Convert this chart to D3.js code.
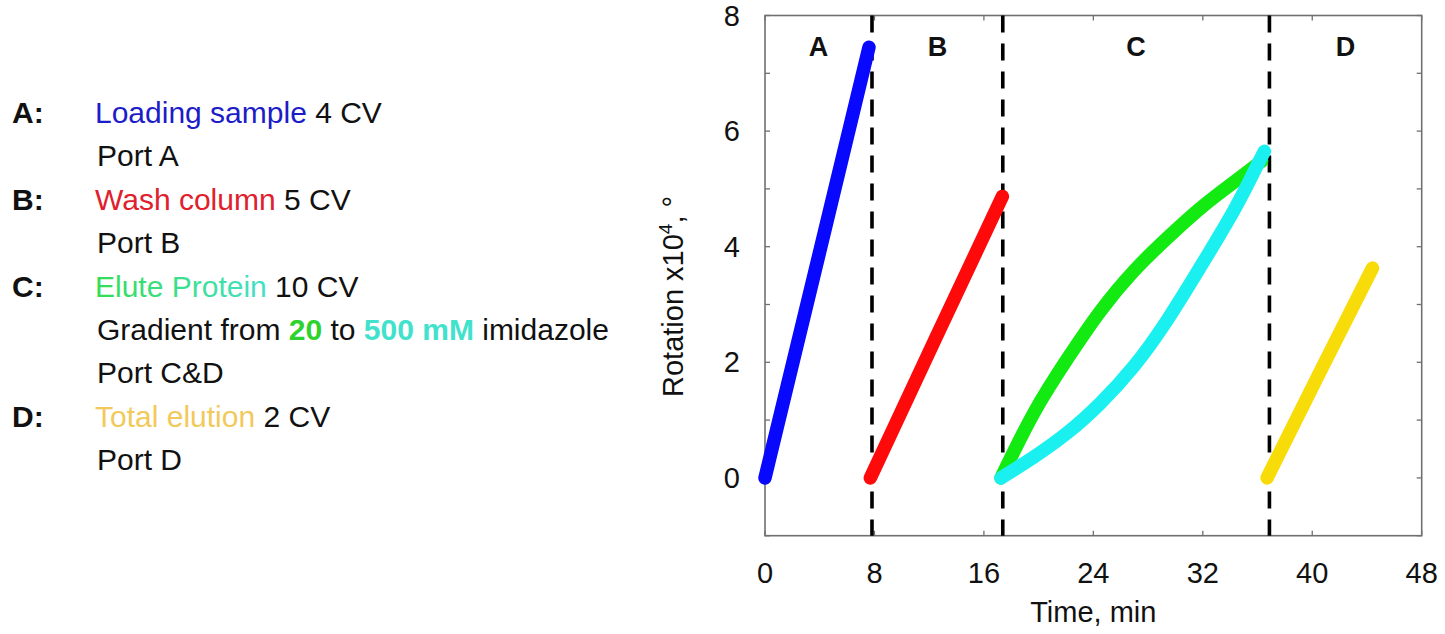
<!DOCTYPE html>
<html>
<head>
<meta charset="utf-8">
<script src="https://cdn.jsdelivr.net/npm/d3@7"></script>
<style>
  body { margin: 0; background: #fff; }
  svg { display: block; font-family: "Liberation Sans", Arial, sans-serif; }
</style>
</head>
<body>
<div id="chart"></div>
<script>
// phase data (time in min, rotation in x10^4 deg)
var loadTime = [0, 3.8, 7.6];
var loadRot = [0, 3.72, 7.45];
var washTime = [7.7, 12.5, 17.35];
var washRot = [0, 2.43, 4.87];
var eluteLowTime = [17.25, 19.64, 22.1, 24.5, 26.96, 29.4, 31.85, 34.3, 36.3];
var eluteLowRot = [0, 1.12, 2.06, 2.88, 3.58, 4.15, 4.67, 5.12, 5.48];
var eluteHighTime = [17.25, 19.64, 22.1, 24.5, 26.96, 29.4, 31.85, 34.3, 35.75, 36.5];
var eluteHighRot = [0, 0.36, 0.78, 1.29, 1.93, 2.73, 3.66, 4.64, 5.3, 5.65];
var totalTime = [36.7, 40.6, 44.4];
var totalRot = [0, 1.85, 3.63];

var phaseBounds = [7.82, 17.38, 36.87];
var phaseNames = ["A", "B", "C", "D"];
var xTicks = [0, 8, 16, 24, 32, 40, 48];
var yTicks = [0, 2, 4, 6, 8];
var yMinor = [-1, 0, 1, 2, 3, 4, 5, 6, 7, 8];

// legend text on the left
var legendKeys = ["A:", "B:", "C:", "D:"];
var legendSteps = ["Loading sample", "Wash column", "Elute Protein", "Total elution"];
var legendVolumes = [" 4 CV", " 5 CV", " 10 CV", " 2 CV"];
var legendPorts = ["Port A", "Port B", "Port C&D", "Port D"];

var width = 1445, height = 634;
var margin = {top: 15.5, right: 23.3, bottom: 98.3, left: 765};

var svg = d3.select("#chart").append("svg")
    .attr("width", width)
    .attr("height", height);

var x = d3.scaleLinear().domain([0, 48]).range([margin.left, width - margin.right]);
var y = d3.scaleLinear().domain([-1, 8]).range([height - margin.bottom, margin.top]);

var series = [
    {t: loadTime, r: loadRot, color: "#0808ff"},
    {t: washTime, r: washRot, color: "#ff0a0a"},
    {t: eluteLowTime, r: eluteLowRot, color: "#12ea12"},
    {t: eluteHighTime, r: eluteHighRot, color: "#1af0f0"},
    {t: totalTime, r: totalRot, color: "#f8dc0a"}
];

var defs = svg.append("defs");
var grad = defs.append("linearGradient")
    .attr("id", "eluteGrad")
    .attr("gradientUnits", "userSpaceOnUse")
    .attr("x1", 95).attr("x2", 267).attr("y1", 0).attr("y2", 0);
grad.append("stop").attr("offset", "0%").attr("stop-color", "#33dd55");
grad.append("stop").attr("offset", "100%").attr("stop-color", "#44e0c8");

// frame
svg.append("rect")
    .attr("x", x(0)).attr("y", y(8))
    .attr("width", x(48) - x(0)).attr("height", y(-1) - y(8))
    .attr("fill", "none").attr("stroke", "#707070").attr("stroke-width", 1.6);

// inward ticks on all four sides
var tickLen = 5;
svg.append("g").selectAll("line").data(xTicks).enter().append("line")
    .attr("x1", d => x(d)).attr("x2", d => x(d))
    .attr("y1", y(-1)).attr("y2", y(-1) - tickLen)
    .attr("stroke", "#707070").attr("stroke-width", 1.3);
svg.append("g").selectAll("line").data(xTicks).enter().append("line")
    .attr("x1", d => x(d)).attr("x2", d => x(d))
    .attr("y1", y(8)).attr("y2", y(8) + tickLen)
    .attr("stroke", "#707070").attr("stroke-width", 1.3);
svg.append("g").selectAll("line").data(yMinor).enter().append("line")
    .attr("x1", x(0)).attr("x2", x(0) + tickLen)
    .attr("y1", d => y(d)).attr("y2", d => y(d))
    .attr("stroke", "#707070").attr("stroke-width", 1.3);
svg.append("g").selectAll("line").data(yMinor).enter().append("line")
    .attr("x1", x(48)).attr("x2", x(48) - tickLen)
    .attr("y1", d => y(d)).attr("y2", d => y(d))
    .attr("stroke", "#707070").attr("stroke-width", 1.3);

// tick labels
svg.append("g").selectAll("text").data(xTicks).enter().append("text")
    .attr("x", d => x(d)).attr("y", 583)
    .attr("text-anchor", "middle")
    .style("font-size", "29px").attr("fill", "#111")
    .text(d => d);
svg.append("g").selectAll("text").data(yTicks).enter().append("text")
    .attr("x", 740).attr("y", d => y(d))
    .attr("dy", "0.35em")
    .attr("text-anchor", "end")
    .style("font-size", "29px").attr("fill", "#111")
    .text(d => d);

// axis titles
svg.append("text")
    .attr("x", (x(0) + x(48)) / 2).attr("y", 622)
    .attr("text-anchor", "middle")
    .style("font-size", "29px").attr("fill", "#111")
    .text("Time, min");

var yTitle = svg.append("text")
    .attr("transform", "translate(683,397) rotate(-90)")
    .attr("text-anchor", "start")
    .style("font-size", "29px").attr("fill", "#111");
yTitle.append("tspan").text("Rotation x10");
yTitle.append("tspan").attr("dy", -11).style("font-size", "19px").text("4");
yTitle.append("tspan").attr("dy", 11).text(", \u00b0");

// phase boundaries
svg.append("g").selectAll("line").data(phaseBounds).enter().append("line")
    .attr("x1", d => x(d)).attr("x2", d => x(d))
    .attr("y1", y(8)).attr("y2", y(-1))
    .attr("stroke", "#000").attr("stroke-width", 3.6)
    .attr("stroke-dasharray", "17,11");

// phase names centred between boundaries
var edges = [0].concat(phaseBounds, [48]);
svg.append("g").selectAll("text").data(phaseNames).enter().append("text")
    .attr("x", (d, i) => x((edges[i] + edges[i + 1]) / 2))
    .attr("y", 56)
    .attr("text-anchor", "middle")
    .style("font-size", "27px").style("font-weight", "bold").attr("fill", "#111")
    .text(d => d);

// curves
var line = d3.line()
    .x(d => x(d[0]))
    .y(d => y(d[1]))
    .curve(d3.curveNatural);

svg.append("g").selectAll("path").data(series).enter().append("path")
    .attr("d", d => line(d3.zip(d.t, d.r)))
    .attr("fill", "none")
    .attr("stroke", d => d.color)
    .attr("stroke-width", 13.5)
    .attr("stroke-linecap", "round")
    .attr("stroke-linejoin", "round");

// legend block
var stepColors = ["#1c1cc8", "#e0202c", "url(#eluteGrad)", "#f2c95a"];
var rowGap = 43.4, firstBase = 123;
var rowIndex = [0, 2, 4, 7];
var portIndex = [1, 3, 6, 8];
var legend = svg.append("g").style("font-size", "30px").attr("fill", "#111");

legendKeys.forEach(function (k, i) {
    var base = firstBase + rowIndex[i] * rowGap;
    legend.append("text")
        .attr("x", 12).attr("y", base)
        .style("font-weight", "bold")
        .text(k);
    var t = legend.append("text").attr("x", 95).attr("y", base);
    t.append("tspan").attr("fill", stepColors[i]).text(legendSteps[i]);
    t.append("tspan").text(legendVolumes[i]);
    legend.append("text")
        .attr("x", 97).attr("y", firstBase + portIndex[i] * rowGap)
        .text(legendPorts[i]);
});

var g = legend.append("text").attr("x", 97).attr("y", firstBase + 5 * rowGap);
g.append("tspan").text("Gradient from ");
g.append("tspan").attr("fill", "#2ed22e").style("font-weight", "bold").text("20");
g.append("tspan").text(" to ");
g.append("tspan").attr("fill", "#40e2cc").style("font-weight", "bold").text("500 mM");
g.append("tspan").text(" imidazole");
</script>
</body>
</html>
